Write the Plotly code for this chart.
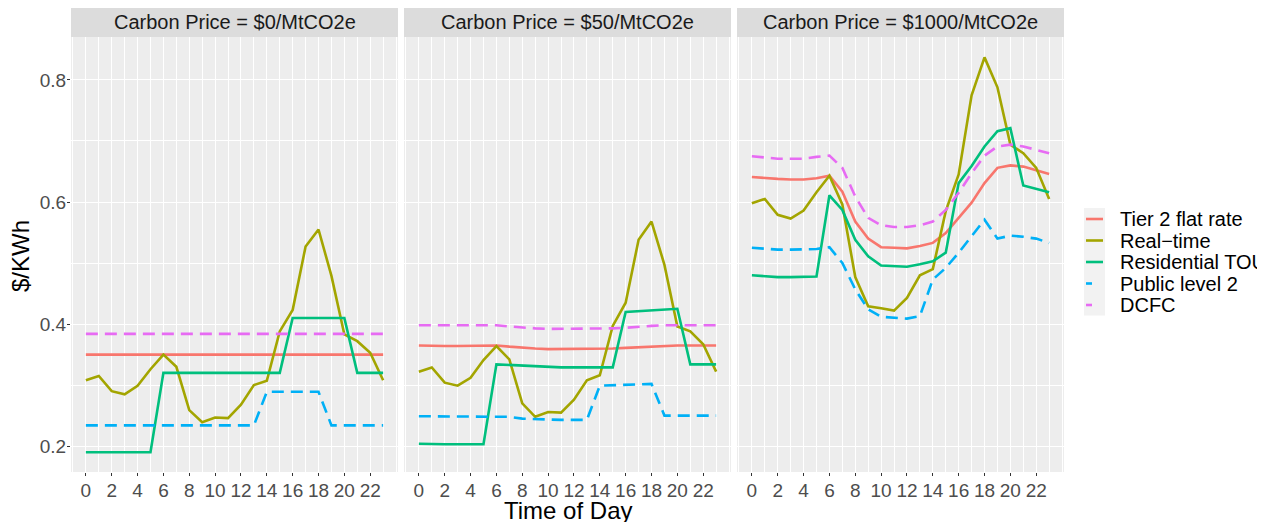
import plotly.graph_objects as go
from plotly.subplots import make_subplots

hours = list(range(24))
panels = ["Carbon Price = $0/MtCO2e", "Carbon Price = $50/MtCO2e", "Carbon Price = $1000/MtCO2e"]
series_names = ["Tier 2 flat rate", "Real\u2212time", "Residential TOU", "Public level 2", "DCFC"]

# Panel 1: $0
tier2_p0 = [0.35] * 24
realtime_p0 = [0.308, 0.315, 0.290, 0.285, 0.299, 0.326, 0.350, 0.330, 0.259, 0.239, 0.247, 0.246,
               0.268, 0.300, 0.307, 0.388, 0.423, 0.527, 0.555, 0.479, 0.383, 0.372, 0.353, 0.308]
tou_p0 = [0.19, 0.19, 0.19, 0.19, 0.19, 0.19, 0.32, 0.32, 0.32, 0.32, 0.32, 0.32,
          0.32, 0.32, 0.32, 0.32, 0.41, 0.41, 0.41, 0.41, 0.41, 0.32, 0.32, 0.32]
publ2_p0 = [0.234] * 14 + [0.289] * 5 + [0.234] * 5
dcfc_p0 = [0.384] * 24

# Panel 2: $50
tier2_p50 = [0.365, 0.364, 0.364, 0.364, 0.364, 0.364, 0.365, 0.363, 0.361, 0.360, 0.359, 0.359,
             0.359, 0.359, 0.359, 0.360, 0.361, 0.362, 0.364, 0.365, 0.365, 0.365, 0.365, 0.365]
realtime_p50 = [0.322, 0.329, 0.304, 0.299, 0.312, 0.341, 0.364, 0.342, 0.270, 0.248, 0.256, 0.255,
                0.276, 0.308, 0.316, 0.397, 0.435, 0.538, 0.568, 0.497, 0.396, 0.388, 0.367, 0.322]
tou_p50 = [0.204, 0.203, 0.203, 0.203, 0.203, 0.203, 0.334, 0.333, 0.331, 0.330, 0.329, 0.329,
           0.329, 0.329, 0.329, 0.329, 0.420, 0.421, 0.423, 0.424, 0.425, 0.334, 0.334, 0.334]
publ2_p50 = [0.249, 0.249, 0.249, 0.249, 0.249, 0.249, 0.249, 0.248, 0.245, 0.244, 0.243, 0.243,
             0.243, 0.243, 0.299, 0.300, 0.301, 0.302, 0.302, 0.250, 0.250, 0.250, 0.250, 0.250]
dcfc_p50 = [0.398, 0.398, 0.398, 0.398, 0.398, 0.398, 0.398, 0.396, 0.394, 0.393, 0.392, 0.392,
            0.392, 0.392, 0.392, 0.393, 0.394, 0.396, 0.397, 0.398, 0.398, 0.398, 0.398, 0.398]

# Panel 3: $1000
tier2_p1000 = [0.641, 0.639, 0.638, 0.637, 0.637, 0.639, 0.643, 0.617, 0.568, 0.540, 0.526, 0.525,
               0.524, 0.528, 0.533, 0.549, 0.574, 0.599, 0.631, 0.656, 0.660, 0.658, 0.652, 0.646]
realtime_p1000 = [0.598, 0.605, 0.579, 0.573, 0.586, 0.616, 0.643, 0.596, 0.477, 0.429, 0.426, 0.422,
                  0.443, 0.480, 0.490, 0.585, 0.645, 0.775, 0.837, 0.788, 0.694, 0.680, 0.656, 0.605]
tou_p1000 = [0.480, 0.478, 0.477, 0.477, 0.477, 0.478, 0.611, 0.587, 0.538, 0.511, 0.496, 0.495,
             0.494, 0.498, 0.503, 0.517, 0.631, 0.659, 0.691, 0.716, 0.721, 0.627, 0.621, 0.616]
publ2_p1000 = [0.525, 0.523, 0.522, 0.522, 0.522, 0.523, 0.526, 0.500, 0.457, 0.424, 0.412, 0.410,
               0.409, 0.413, 0.473, 0.492, 0.517, 0.544, 0.571, 0.540, 0.545, 0.543, 0.540, 0.533]
dcfc_p1000 = [0.675, 0.673, 0.671, 0.671, 0.671, 0.674, 0.676, 0.656, 0.609, 0.574, 0.562, 0.559,
              0.559, 0.562, 0.568, 0.587, 0.615, 0.647, 0.676, 0.691, 0.694, 0.691, 0.686, 0.680]

panel_data = [
    [tier2_p0, realtime_p0, tou_p0, publ2_p0, dcfc_p0],
    [tier2_p50, realtime_p50, tou_p50, publ2_p50, dcfc_p50],
    [tier2_p1000, realtime_p1000, tou_p1000, publ2_p1000, dcfc_p1000],
]
colors = ["#F8766D", "#A3A500", "#00BF7D", "#00B0F6", "#E76BF3"]
dashes = ["solid", "solid", "solid", "12px,7px", "12px,7px"]

x_ticks = list(range(0, 23, 2))
y_ticks = [0.2, 0.4, 0.6, 0.8]

FONT = "Liberation Sans, Arial, sans-serif"
PANEL_BG = "#EDEDED"
STRIP_BG = "#DCDCDC"

# the page body adds an 8px offset; work in screen pixels and subtract it
OFF = 8
FIG_W, FIG_H = 1265 - OFF, 522 - OFF
L, R, T, B = 71, 1064, 37, 472          # plotting region, screen pixels
W = float(R - L)
H = float(B - T)


def px_x(px):
    return (px - L) / W


def px_y(py):
    return (B - py) / H


fig = make_subplots(rows=1, cols=3, shared_yaxes=True, horizontal_spacing=0.006)

for p, pdata in enumerate(panel_data):
    for s, vals in enumerate(pdata):
        fig.add_trace(go.Scatter(
            x=hours, y=vals, mode="lines", name=series_names[s],
            line=dict(color=colors[s], width=2.6, dash=dashes[s]),
            showlegend=False, hoverinfo="skip"),
            row=1, col=p + 1)

domains = [[0, 327 / W], [333 / W, 660 / W], [666 / W, 1.0]]
for i in range(3):
    xa = "xaxis" if i == 0 else f"xaxis{i+1}"
    ya = "yaxis" if i == 0 else f"yaxis{i+1}"
    fig.layout[xa].update(
        domain=domains[i], range=[-1.15, 24.15], tickvals=x_ticks, ticks="outside",
        ticklen=3, tickcolor="#333333", tickwidth=1, automargin=False, ticklabelstandoff=-2,
        showgrid=True, gridcolor="white", gridwidth=1.3, zeroline=False,
        minor=dict(dtick=1, tick0=0, showgrid=True, gridcolor="white", gridwidth=0.6),
        tickfont=dict(family=FONT, size=19, color="#4D4D4D"), showline=False)
    fig.layout[ya].update(
        range=[0.1576, 0.8704], tickvals=y_ticks, tickformat=".1f", automargin=False,
        showgrid=True, gridcolor="white", gridwidth=1.3, zeroline=False,
        minor=dict(dtick=0.1, tick0=0.2, showgrid=True, gridcolor="white", gridwidth=0.6),
        tickfont=dict(family=FONT, size=19, color="#4D4D4D"), showline=False)
    if i == 0:
        fig.layout[ya].update(ticks="outside", ticklen=3, tickcolor="#333333", tickwidth=1,
                              ticklabelstandoff=-3)
    xr = "x" if i == 0 else f"x{i+1}"
    yr = "y" if i == 0 else f"y{i+1}"
    fig.add_shape(type="rect", xref=f"{xr} domain", yref=f"{yr} domain",
                  x0=0, x1=1, y0=0, y1=1, fillcolor=PANEL_BG, line=dict(width=0), layer="below")
    fig.add_shape(type="rect", xref=f"{xr} domain", yref=f"{yr} domain",
                  x0=0, x1=1, y0=1, y1=1 + 29 / H, fillcolor=STRIP_BG, line=dict(width=0))
    fig.add_annotation(text=panels[i], xref=f"{xr} domain", yref=f"{yr} domain",
                       x=0.5, y=1 + 15 / H, showarrow=False, xanchor="center", yanchor="middle",
                       font=dict(family=FONT, size=20, color="#1A1A1A"))

# axis titles
fig.add_annotation(text="Time of Day", xref="paper", yref="paper", x=px_x(567.5), y=px_y(510),
                   yanchor="middle", xanchor="center", showarrow=False,
                   font=dict(family=FONT, size=24, color="black"))
fig.add_annotation(text="$/KWh", xref="paper", yref="paper", x=px_x(20), y=px_y(256),
                   yanchor="middle", xanchor="center", showarrow=False, textangle=-90,
                   font=dict(family=FONT, size=24, color="black"))

# legend (drawn as keys + labels, ggplot style)
leg_y = [219, 240.5, 262, 283.5, 305]
fig.add_shape(type="rect", xref="paper", yref="paper",
              x0=px_x(1084), x1=px_x(1105), y0=px_y(315.5), y1=px_y(208),
              fillcolor="#F2F2F2", line=dict(width=0))
for s in range(5):
    x_end = 1103 if dashes[s] == "solid" else 1092
    fig.add_shape(type="line", xref="paper", yref="paper",
                  x0=px_x(1086), x1=px_x(x_end), y0=px_y(leg_y[s]), y1=px_y(leg_y[s]),
                  line=dict(color=colors[s], width=2.6))
    fig.add_annotation(text=series_names[s], xref="paper", yref="paper",
                       x=px_x(1118), y=px_y(leg_y[s]), xanchor="left", yanchor="middle",
                       showarrow=False, font=dict(family=FONT, size=20, color="black"))

fig.update_layout(
    width=FIG_W, height=FIG_H,
    margin=dict(l=L - OFF, r=FIG_W - (R - OFF), t=T - OFF, b=FIG_H - (B - OFF), autoexpand=False),
    paper_bgcolor="white", plot_bgcolor=PANEL_BG,
    font=dict(family=FONT),
    showlegend=False,
)

fig.write_html("out.html")
